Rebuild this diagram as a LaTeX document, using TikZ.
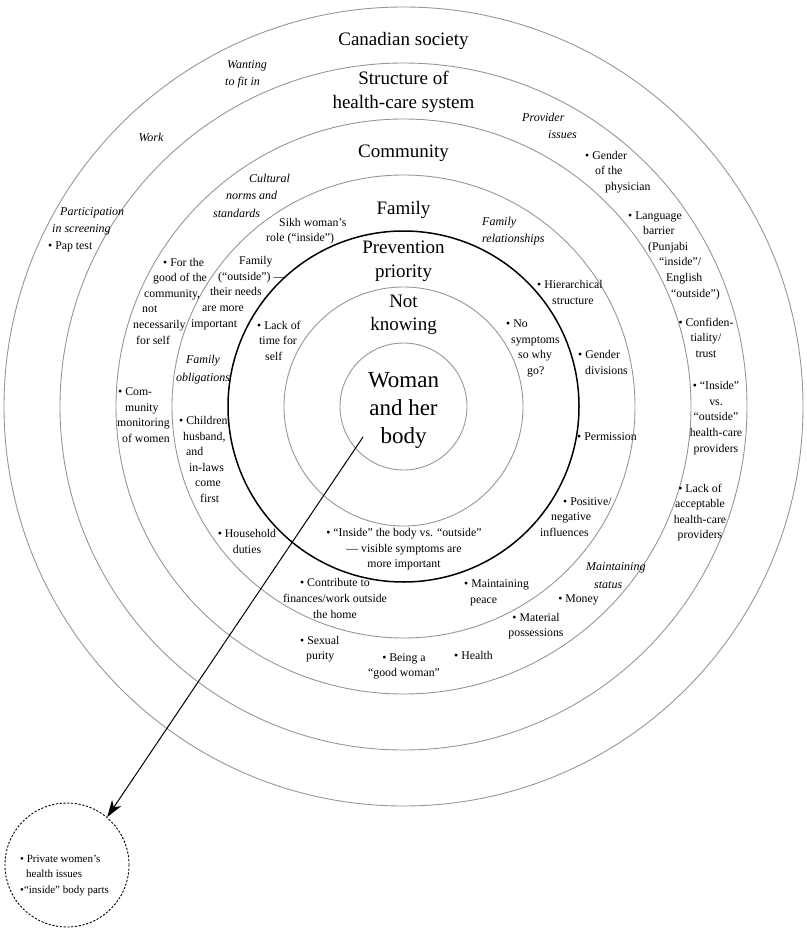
\documentclass[tikz,border=0pt]{standalone}
\usepackage{fontspec}
\setmainfont{Liberation Serif}
\usetikzlibrary{arrows.meta}
\definecolor{ringgray}{RGB}{150,150,150}
\begin{document}
\begin{tikzpicture}[x=1pt,y=-1pt,
  ring/.style={circle,draw=ringgray,line width=0.9pt,inner sep=0pt},
  blackring/.style={circle,draw=black,line width=1.5pt,inner sep=0pt},
  title/.style={font=\fontsize{19}{23.5}\selectfont,align=center,inner sep=0pt},
  bigtitle/.style={font=\fontsize{23}{28}\selectfont,align=center,inner sep=0pt},
  ital/.style={font=\fontsize{12}{17.5}\selectfont\itshape,inner sep=0pt},
  lab/.style={font=\fontsize{11.8}{15.6}\selectfont,inner sep=0pt},
  labl/.style={lab,align=left,anchor=west},
  labc/.style={lab,align=center},
  dashring/.style={circle,draw=black,line width=0.9pt,dash pattern=on 2.2pt off 1.6pt,inner sep=0pt},
  pointer/.style={draw=black,line width=1pt,-{Stealth[length=17pt,width=11pt,inset=5pt]}}
]
\useasboundingbox (0,0) rectangle (806,936);

% concentric rings
\node[ring,minimum size=799pt] (r7) at (403.5,406.5) {};
\node[ring,minimum size=687pt] (r6) at (403.5,406.5) {};
\node[ring,minimum size=575pt] (r5) at (403.5,406.5) {};
\node[ring,minimum size=463pt] (r4) at (403.5,406.5) {};
\node[blackring,minimum size=351pt] (r3) at (403.5,406.5) {};
\node[ring,minimum size=239pt] (r2) at (403.5,406.5) {};
\node[ring,minimum size=127pt] (r1) at (403.5,406.5) {};

% titles
\node[title] (tcan) at (403.5,41) {Canadian society};
\node[title] (tstr) at (403.5,92) {Structure of\\health-care system};
\node[title] (tcom) at (403.5,153) {Community};
\node[title] (tfam) at (403.5,210) {Family};
\node[title] (tprev) at (403.5,261.5) {Prevention\\priority};
\node[title] (tnot) at (403.5,315) {Not\\knowing};
\node[bigtitle] (twom) at (403.5,410) {Woman\\and her\\body};

% italic category labels
\node[ital,align=left,anchor=west] (iwant) at (225,74.5) {\hspace*{2pt}Wanting\\to fit in};
\node[ital] (iwork) at (151,137) {Work};
\node[ital,align=left,anchor=west] (ipart) at (52,221.5) {\hspace*{8pt}Participation\\in screening};
\node[ital,align=left,anchor=west] (icult) at (213,195.5) {\hspace*{36pt}Cultural\\\hspace*{13pt}norms and\\standards};
\node[ital,align=center] (iobl) at (203,369.5) {Family\\obligations};
\node[ital,align=left,anchor=west] (irel) at (482,231) {Family\\relationships};
\node[ital,align=left,anchor=west] (iprov) at (522,126) {Provider\\\hspace*{26pt}issues};
\node[ital,align=left,anchor=west] (imaint) at (586,575.5) {Maintaining\\\hspace*{8pt}status};

% Canadian society ring
\node[labl] (bpap) at (48,247) {• Pap test};

% Structure of health-care system ring
\node[labl] (bgphys) at (585,172) {• Gender\\\hspace*{10pt}of the\\\hspace*{20pt}physician};
\node[labl] (blang) at (628,255.5) {• Language\\\hspace*{15pt}barrier\\\hspace*{20pt}(Punjabi\\\hspace*{31pt}“inside”/\\\hspace*{38pt}English\\\hspace*{43pt}“outside”)};
\node[labc] (bconf) at (706,337.5) {• Confiden-\\tiality/\\trust};
\node[labc] (binout) at (716,418) {• “Inside”\\vs.\\“outside”\\health-care\\providers};
\node[labc] (black) at (700,512.5) {• Lack of\\acceptable\\health-care\\providers};

% Community ring
\node[labl] (bgood) at (133,301) {\hspace*{30pt}• For the\\\hspace*{20pt}good of the\\\hspace*{11pt}community,\\\hspace*{9pt}not\\necessarily\\\hspace*{3pt}for  self};
\node[labl] (bcmon) at (117,415) {\hspace*{1pt}• Com-\\\hspace*{8pt}munity\\monitoring\\\hspace*{5pt}of women};
\node[labc] (bmoney) at (578.5,600) {• Money};
\node[labc] (bmat) at (536,626) {• Material\\possessions};
\node[labl] (bhealth) at (454,655) {• Health};
\node[labc] (bgood2) at (404,666.5) {• Being a\\“good woman”};
\node[labl] (bsex) at (300,649) {• Sexual\\\hspace*{6pt}purity};

% Family ring
\node[labl] (bsikh) at (266,231) {\hspace*{13pt}Sikh woman’s\\role (“inside”)};
\node[labl] (bfout) at (191,293) {\hspace*{48pt}Family\\\hspace*{27pt}(“outside”) —\\\hspace*{19pt}their needs\\\hspace*{11pt}are more\\important};
\node[labl] (bchild) at (179,459.5) {• Children\\\hspace*{4pt}husband,\\\hspace*{7pt}and\\\hspace*{10pt}in-laws\\\hspace*{16pt}come\\\hspace*{21pt}first};
\node[labc] (bhouse) at (247,541.5) {• Household\\duties};
\node[labc] (bcontr) at (335,598.5) {• Contribute to\\finances/work outside\\the home};
\node[labl] (bpeace) at (464,593) {• Maintaining\\\hspace*{6pt}peace};
\node[labl] (bhier) at (537,292.5) {• Hierarchical\\\hspace*{15pt}structure};
\node[labl] (bgdiv) at (578,362.5) {• Gender\\\hspace*{7pt}divisions};
\node[labl] (bperm) at (577,437) {• Permission};
\node[labl] (bpos) at (540,517) {\hspace*{23pt}• Positive/\\\hspace*{11pt}negative\\influences};

% Prevention priority ring
\node[labl] (blacktime) at (257,340.5) {• Lack of\\\hspace*{2pt}time for\\\hspace*{8pt}self};
\node[labl] (bnosym) at (506,348.5) {• No\\\hspace*{5pt}symptoms\\\hspace*{12pt}so why\\\hspace*{21pt}go?};
\node[labc] (binside) at (404,549.5) {• “Inside” the body vs. “outside”\\— visible symptoms are\\more important};

% pointer to the private issues circle
\node[dashring,minimum size=124pt] (dash) at (67,865) {};
\node[lab,font=\fontsize{11}{15.5}\selectfont,align=left,anchor=west] (bpriv) at (20,875.5) {• Private women’s\\\hspace*{6pt}health issues\\•“inside” body parts};
\coordinate (src) at (363,437);
\draw[pointer] (src) -- (dash.50.6);
\end{tikzpicture}
\end{document}
